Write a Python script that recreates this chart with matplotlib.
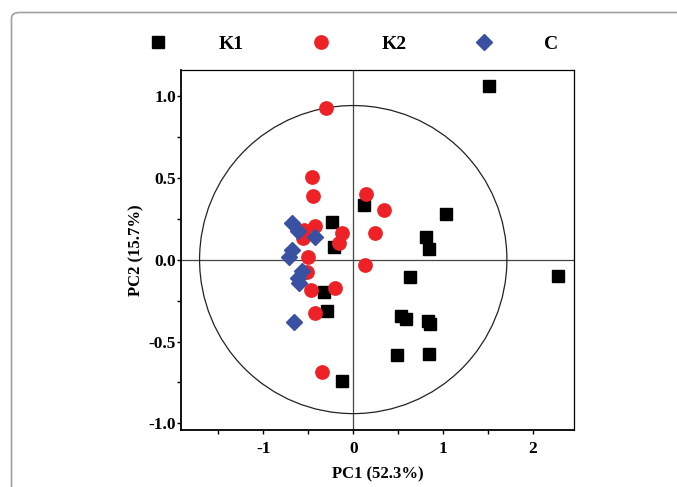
import matplotlib
matplotlib.use("Agg")
import matplotlib.pyplot as plt
from matplotlib.patches import Ellipse, FancyBboxPatch
from matplotlib.ticker import MultipleLocator

# PCA scores
k1_pc1 = [0.115, -0.241, -0.219, -0.323, -0.29, -0.13, 1.507, 1.028, 0.805, 0.839,
          0.627, 2.275, 0.527, 0.59, 0.828, 0.85, 0.482, 0.839]
k1_pc2 = [0.336, 0.231, 0.078, -0.196, -0.314, -0.739, 1.058, 0.279, 0.139, 0.066,
          -0.105, -0.099, -0.343, -0.363, -0.373, -0.393, -0.58, -0.574]

k2_pc1 = [-0.304, -0.46, -0.453, 0.141, 0.342, 0.238, -0.126, -0.156, -0.427,
          -0.553, -0.56, -0.505, -0.512, -0.475, -0.204, -0.423, -0.349, 0.134]
k2_pc2 = [0.922, 0.503, 0.387, 0.399, 0.304, 0.162, 0.164, 0.103, 0.206,
          0.18, 0.129, 0.017, -0.074, -0.188, -0.176, -0.324, -0.688, -0.034]

c_pc1 = [-0.679, -0.62, -0.431, -0.687, -0.72, -0.571, -0.62, -0.609, -0.657]
c_pc2 = [0.221, 0.176, 0.139, 0.058, 0.013, -0.07, -0.115, -0.141, -0.379]

group_names = ["K1", "K2", "C"]
ellipse_half_axes = (1.71, 0.94)

xlabel = "PC1 (52.3%)"
ylabel = "PC2 (15.7%)"

plt.rcParams["font.family"] = ["Liberation Serif", "DejaVu Serif"]
plt.rcParams["font.weight"] = "bold"

fig = plt.figure(figsize=(6.77, 4.87), dpi=100)

# light rounded frame around the panel, open to the right and bottom
frame = FancyBboxPatch((11.5 / 677, -0.2), 1.2, 1.2 - 12.5 / 487,
                       boxstyle="round,pad=0,rounding_size=0.012",
                       transform=fig.transFigure, fill=False,
                       edgecolor="#a0a0a0", linewidth=1.2, clip_on=False)
fig.add_artist(frame)

ax = fig.add_axes([180.7 / 677, 1 - 430 / 487, (574.3 - 180.7) / 677, (430 - 69.5) / 487])

ax.axhline(0, color="#444444", linewidth=0.9, zorder=1)
ax.axvline(0, color="#444444", linewidth=0.9, zorder=1)
ax.add_patch(Ellipse((0, 0), 2 * ellipse_half_axes[0], 2 * ellipse_half_axes[1],
                     fill=False, edgecolor="#222222", linewidth=0.9, zorder=1))

ax.plot(k1_pc1, k1_pc2, "s", color="black", markersize=9.2, linestyle="none",
        label=group_names[0], zorder=3)
ax.plot(k2_pc1, k2_pc2, "o", color="#ee2226", markersize=9.6, linestyle="none",
        label=group_names[1], zorder=3)
ax.plot(c_pc1, c_pc2, "D", color="#3a51a3", markersize=8.0, linestyle="none",
        label=group_names[2], zorder=4)

ax.set_xlim(-1.92, 2.46)
ax.set_ylim(-1.04, 1.16)

ax.xaxis.set_major_locator(MultipleLocator(1))
ax.xaxis.set_minor_locator(MultipleLocator(0.5))
ax.yaxis.set_major_locator(MultipleLocator(0.5))
ax.yaxis.set_minor_locator(MultipleLocator(0.25))
ax.set_xticks([-1, 0, 1, 2])
ax.set_xticklabels(["-1", "0", "1", "2"])
ax.set_yticks([-1.0, -0.5, 0.0, 0.5, 1.0])
ax.set_yticklabels(["-1.0", "-0.5", "0.0", "0.5", "1.0"])
ax.tick_params(which="both", direction="out", width=1, labelsize=12.5)
ax.tick_params(which="major", length=3)
ax.tick_params(which="minor", length=3)
ax.tick_params(axis="x", pad=5)
ax.tick_params(axis="y", pad=0.5)

for side in ["left", "bottom"]:
    ax.spines[side].set_linewidth(1.3)
for side in ["top", "right"]:
    ax.spines[side].set_linewidth(0.9)

ax.set_xlabel(xlabel, fontsize=12, fontweight="bold", labelpad=7)
ax.set_ylabel(ylabel, fontsize=12, fontweight="bold", labelpad=3)

handles, labels = ax.get_legend_handles_labels()
fig.legend(handles, labels, loc="center", bbox_to_anchor=(0.522, 0.909), ncol=3,
           frameon=False, prop={"size": 14, "weight": "bold"},
           handlelength=1.0, handletextpad=2.6, columnspacing=3.5)

fig.savefig("out.png", dpi=100)
